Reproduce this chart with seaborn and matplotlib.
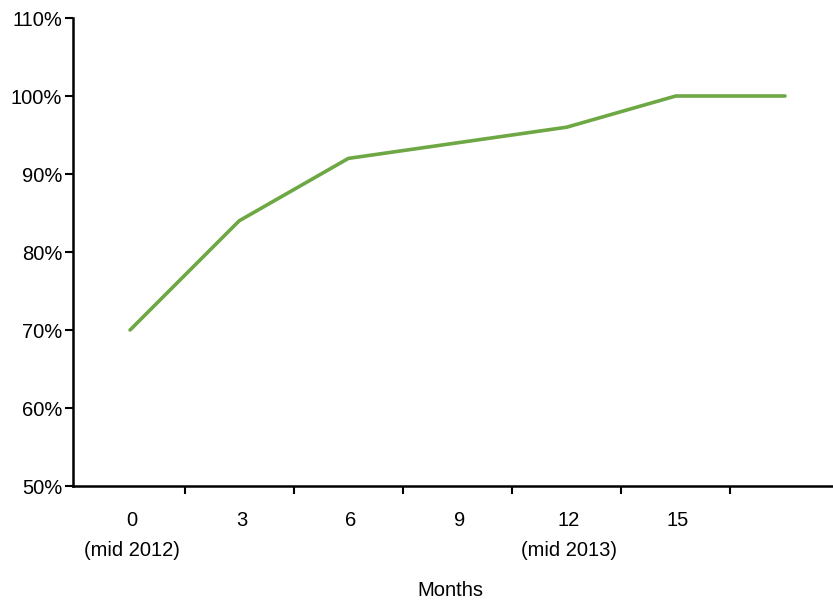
import matplotlib
matplotlib.use("Agg")
import matplotlib.pyplot as plt
from matplotlib.ticker import FixedLocator, FuncFormatter
import seaborn as sns
import pandas as pd

months = [0, 3, 6, 9, 12, 15, 18]
tick_labels = ["0\n(mid 2012)", "3", "6", "9", "12\n(mid 2013)", "15", ""]
share = [70, 84, 92, 94, 96, 100, 100]

sns.set_theme(style="white")
plt.rcParams["font.family"] = ["Liberation Sans", "DejaVu Sans"]
plt.rcParams["text.color"] = "black"
plt.rcParams["xtick.color"] = "black"
plt.rcParams["ytick.color"] = "black"

FS = 14.5

df = pd.DataFrame({"pos": range(len(months)), "share": share})

fig = plt.figure(figsize=(8.33, 6.0), dpi=100)
ax = fig.add_axes([0.088, 0.19, 0.912, 0.78])

sns.lineplot(data=df, x="pos", y="share", ax=ax, color="#6DA844",
             linewidth=2.6, legend=False)

ax.set_xlim(-0.52, 6.44)
ax.set_ylim(50, 110)
ax.set_yticks(range(50, 111, 10))
ax.yaxis.set_major_formatter(FuncFormatter(lambda v, _: f"{v:.0f}%"))

# tick marks sit between categories, labels sit under each category
ax.xaxis.set_major_locator(FixedLocator([i + 0.5 for i in range(len(months) - 1)]))
ax.xaxis.set_major_formatter(FuncFormatter(lambda v, _: ""))
ax.xaxis.set_minor_locator(FixedLocator([i + 0.02 for i in range(len(months))]))
ax.set_xticklabels(tick_labels, minor=True)
ax.tick_params(axis="x", which="minor", length=0, pad=18, labelsize=FS)
ax.tick_params(axis="x", which="major", direction="out", length=6, width=1.5,
               color="black", bottom=True)
ax.tick_params(axis="y", direction="out", length=6, width=1.5, color="black",
               left=True, labelsize=FS, pad=2)
for t in ax.xaxis.get_minor_ticks():
    t.label1.set_linespacing(1.7)
    t.label1.set_verticalalignment("top")

for side in ["top", "right"]:
    ax.spines[side].set_visible(False)
for side in ["left", "bottom"]:
    ax.spines[side].set_color("black")
    ax.spines[side].set_linewidth(1.8)

ax.set_xlabel("")
ax.set_ylabel("")
fig.text(0.5 + 0.088 / 2 - 0.003, 1 - 590 / 600, "Months", ha="center",
         va="center", fontsize=FS)

fig.savefig("out.png", dpi=100)
